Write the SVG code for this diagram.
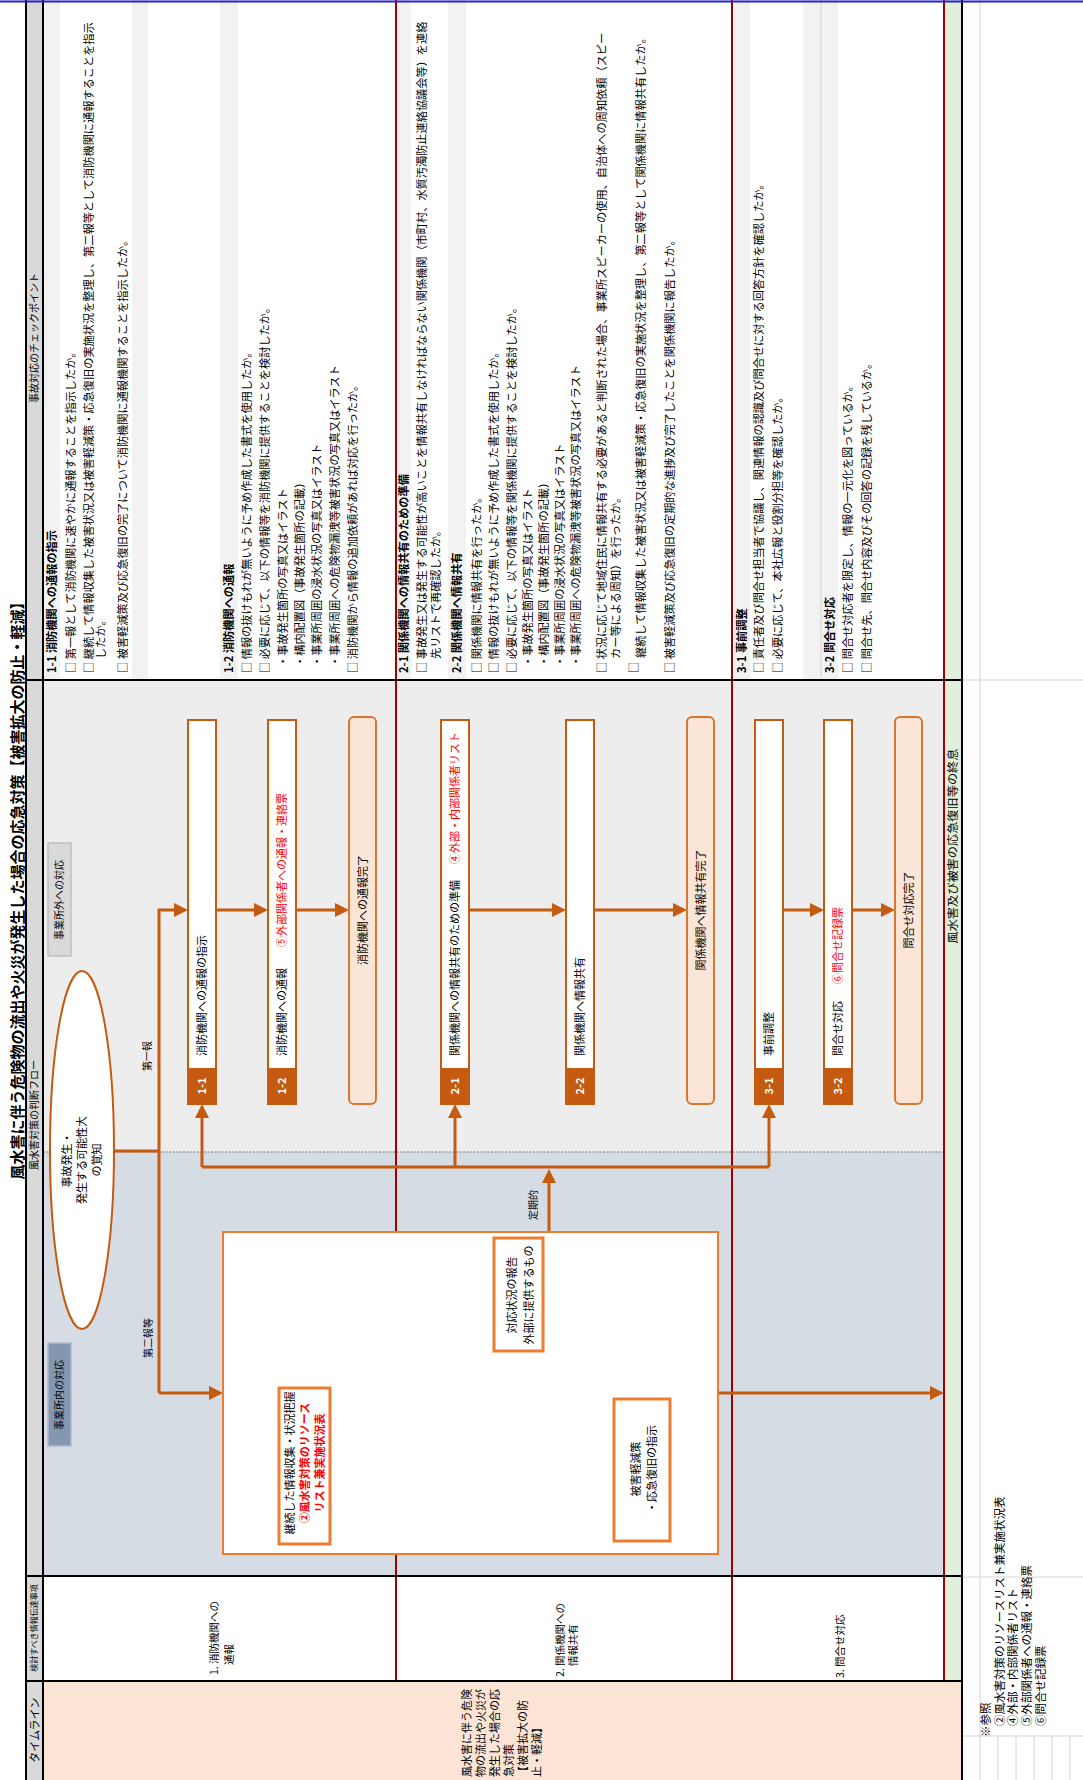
<svg xmlns="http://www.w3.org/2000/svg" width="1083" height="1780" viewBox="0 0 1083 1780">
<style>
text{font-family:"Noto Sans CJK JP","Noto Sans",sans-serif;fill:#000}
.cp{font-size:11.2px}
.b{font-weight:bold}
.red{fill:#ff0000}
.rb{fill:#ff0000;font-weight:bold}
.nb{fill:#fff;stroke:#c55a11;stroke-width:2}
.tab{fill:#c55a11}
.tabt{fill:#fff;font-weight:bold;font-size:11px}
.done{fill:#fbe5d6;stroke:#d9772f;stroke-width:2}
.ln{fill:none;stroke:#c55a11;stroke-width:3}
.ar{marker-end:url(#ah)}
.hb{fill:#f2f2f2}
.bk{stroke:#000;stroke-width:2}
.rd{stroke:#a00000;stroke-width:2}
.gr{stroke:#d4d4d4;stroke-width:1}
.lbl{font-size:11px}
.sm{font-size:10px}
.ib{fill:#fff;stroke:#ed7d31;stroke-width:3}
</style>
<defs>
<marker id="ah" markerUnits="userSpaceOnUse" markerWidth="14" markerHeight="14" viewBox="0 0 14 14" refX="10" refY="7" orient="auto">
<path d="M0,0 L14,7 L0,14 z" fill="#c55a11"/>
</marker>
</defs>
<rect x="0" y="0" width="1083" height="1780" fill="#fff"/>
<g transform="translate(0,1780) rotate(-90)">
<g id="table">
<rect x="0" y="26" width="1780" height="17" fill="#d9d9d9"/>
<rect x="628" y="43" width="472" height="901" fill="#ededed"/>
<rect x="204" y="43" width="424" height="901" fill="#d6dce4"/>
<rect x="99" y="945" width="1681" height="16" fill="#e2efda"/>
<rect x="0" y="43" width="99" height="918" fill="#fce4d6"/>
<rect x="1100" y="44" width="680" height="16" class="hb"/>
<rect x="1100" y="132" width="680" height="16" class="hb"/>
<rect x="1100" y="220" width="680" height="18" class="hb"/>
<rect x="1100" y="397" width="680" height="14" class="hb"/>
<rect x="1100" y="448" width="680" height="18" class="hb"/>
<rect x="1100" y="734" width="680" height="16" class="hb"/>
<rect x="1100" y="803" width="680" height="35" class="hb"/>
<line x1="1100" y1="821" x2="1780" y2="821" class="gr"/>
<line x1="628" y1="43" x2="628" y2="944" stroke="#9a9a9a" stroke-width="1.5" stroke-dasharray="2 1.5"/>
<line x1="0" y1="980" x2="1780" y2="980" class="gr"/>
<line x1="1100" y1="962" x2="1100" y2="1083" class="gr"/>
<line x1="203" y1="962" x2="203" y2="1083" class="gr"/>
<line x1="44" y1="962" x2="44" y2="1083" class="gr"/>
<line x1="0" y1="998" x2="44" y2="998" class="gr"/>
<line x1="0" y1="1016" x2="44" y2="1016" class="gr"/>
<line x1="0" y1="1034" x2="44" y2="1034" class="gr"/>
<line x1="0" y1="1052" x2="44" y2="1052" class="gr"/>
<line x1="0" y1="1070" x2="44" y2="1070" class="gr"/>
<line x1="99" y1="396" x2="1780" y2="396" class="rd"/>
<line x1="99" y1="732" x2="1780" y2="732" class="rd"/>
<line x1="99" y1="944" x2="1780" y2="944" class="rd"/>
<line x1="0" y1="26" x2="1780" y2="26" class="bk"/>
<line x1="0" y1="43" x2="1780" y2="43" class="bk"/>
<line x1="0" y1="962" x2="1780" y2="962" class="bk"/>
<line x1="1100" y1="26" x2="1100" y2="962" class="bk"/>
<line x1="204" y1="26" x2="204" y2="962" class="bk"/>
<line x1="99" y1="26" x2="99" y2="962" class="bk"/>
<line x1="1778.5" y1="0" x2="1778.5" y2="1083" stroke="#2323d6" stroke-width="2"/>
<text x="893" y="23" font-size="15" class="b" text-anchor="middle">風水害に伴う危険物の流出や火災が発生した場合の応急対策【被害拡大の防止・軽減】</text>
<text x="1442" y="38" class="sm" text-anchor="middle" fill="#333">事故対応のチェックポイント</text>
<text x="665" y="38" class="sm" text-anchor="middle" fill="#333">風水害対策の判断フロー</text>
<text x="152" y="37" font-size="8" text-anchor="middle" fill="#333">検討すべき情報伝達事項</text>
<text x="50" y="39" font-size="11" text-anchor="middle" fill="#333">タイムライン</text>
<text x="105" y="218" font-size="10.5">1. 消防機関への</text>
<text x="115" y="233" font-size="10.5">通報</text>
<text x="103" y="564" font-size="10.5">2. 関係機関への</text>
<text x="114" y="577" font-size="10.5">情報共有</text>
<text x="102" y="844" font-size="10.5">3. 問合せ対応</text>
<g font-size="11">
<text x="3" y="471">風水害に伴う危険</text>
<text x="3" y="485">物の流出や火災が</text>
<text x="3" y="499">発生した場合の応</text>
<text x="3" y="513">急対策</text>
<text x="3" y="527">【被害拡大の防</text>
<text x="3" y="541">止・軽減】</text>
</g>
<text x="934" y="957" font-size="11" text-anchor="middle" textLength="195" lengthAdjust="spacingAndGlyphs">風水害及び被害の応急復旧等の終息</text>
<g font-size="11.5">
<text x="43" y="990">※参照</text>
<text x="54" y="1004">②風水害対策のリソースリスト兼実施状況表</text>
<text x="54" y="1017">④外部・内部関係者リスト</text>
<text x="54" y="1031">⑤外部関係者への通報・連絡票</text>
<text x="54" y="1045">⑥問合せ記録票</text>
</g>
</g>
<g id="checkpoints" class="cp">
<text x="1107" y="56" class="cp b">1-1 消防機関への通報の指示</text>
<text x="1107" y="75" class="cp">□ 第一報として消防機関に速やかに通報することを指示したか。</text>
<text x="1107" y="93" class="cp">□ 継続して情報収集した被害状況又は被害軽減策・応急復旧の実施状況を整理し、第二報等として消防機関に通報することを指示</text>
<text x="1121" y="105" class="cp">したか。</text>
<text x="1107" y="127" class="cp">□ 被害軽減策及び応急復旧の完了について消防機関に通報機関することを指示したか。</text>
<text x="1107" y="233" class="cp b">1-2 消防機関への通報</text>
<text x="1107" y="251" class="cp">□ 情報の抜けもれが無いように予め作成した書式を使用したか。</text>
<text x="1107" y="269" class="cp">□ 必要に応じて、以下の情報等を消防機関に提供することを検討したか。</text>
<text x="1113" y="287" class="cp">・事故発生箇所の写真又はイラスト</text>
<text x="1113" y="304" class="cp">・構内配置図（事故発生箇所の記載）</text>
<text x="1113" y="321" class="cp">・事業所周囲の浸水状況の写真又はイラスト</text>
<text x="1113" y="339" class="cp">・事業所周囲への危険物漏洩等被害状況の写真又はイラスト</text>
<text x="1107" y="357" class="cp">□ 消防機関から情報の追加依頼があれば対応を行ったか。</text>
<text x="1107" y="408" class="cp b">2-1 関係機関への情報共有のための準備</text>
<text x="1107" y="426" class="cp">□ 事故発生又は発生する可能性が高いことを情報共有しなければならない関係機関（市町村、水質汚濁防止連絡協議会等）を連絡</text>
<text x="1121" y="440" class="cp">先リストで再確認したか。</text>
<text x="1107" y="461" class="cp b">2-2 関係機関へ情報共有</text>
<text x="1107" y="481" class="cp">□ 関係機関に情報共有を行ったか。</text>
<text x="1107" y="498" class="cp">□ 情報の抜けもれが無いように予め作成した書式を使用したか。</text>
<text x="1107" y="516" class="cp">□ 必要に応じて、以下の情報等を関係機関に提供することを検討したか。</text>
<text x="1113" y="532" class="cp">・事故発生箇所の写真又はイラスト</text>
<text x="1113" y="548" class="cp">・構内配置図（事故発生箇所の記載）</text>
<text x="1113" y="564" class="cp">・事業所周囲の浸水状況の写真又はイラスト</text>
<text x="1113" y="580" class="cp">・事業所周囲への危険物漏洩等被害状況の写真又はイラスト</text>
<text x="1107" y="606" class="cp">□ 状況に応じて地域住民に情報共有する必要があると判断された場合、事業所スピーカーの使用、自治体への周知依頼（スピー</text>
<text x="1121" y="620" class="cp">カー等による周知）を行ったか。</text>
<text x="1107" y="638" class="cp">□</text>
<text x="1122" y="645" class="cp">継続して情報収集した被害状況又は被害軽減策・応急復旧の実施状況を整理し、第二報等として関係機関に情報共有したか。</text>
<text x="1107" y="674" class="cp">□ 被害軽減策及び応急復旧の定期的な進捗及び完了したことを関係機関に報告したか。</text>
<text x="1107" y="746" class="cp b">3-1 事前調整</text>
<text x="1107" y="763" class="cp">□ 責任者及び問合せ担当者で協議し、関連情報の認識及び問合せに対する回答方針を確認したか。</text>
<text x="1107" y="782" class="cp">□ 必要に応じて、本社広報と役割分担等を確認したか。</text>
<text x="1107" y="834" class="cp b">3-2 問合せ対応</text>
<text x="1107" y="852" class="cp">□ 問合せ対応者を限定し、情報の一元化を図っているか。</text>
<text x="1107" y="871" class="cp">□ 問合せ先、問合せ内容及びその回答の記録を残しているか。</text>
</g>
<g id="connectors">
<path d="M629 114 L629 159" class="ln"/>
<path d="M387 159 L870 159 L870 184" class="ln ar"/>
<path d="M387 159 L387 219" class="ln ar"/>
<path d="M870 216 L870 264" class="ln ar"/>
<path d="M870 296 L870 345" class="ln ar"/>
<path d="M870 469 L870 562" class="ln ar"/>
<path d="M870 594 L870 683" class="ln ar"/>
<path d="M870 783 L870 820" class="ln ar"/>
<path d="M870 852 L870 891" class="ln ar"/>
<path d="M613 202 L613 769" class="ln"/>
<path d="M613 202 L672 202" class="ln ar"/>
<path d="M613 455 L672 455" class="ln ar"/>
<path d="M613 769 L672 769" class="ln ar"/>
<path d="M381 646 L422 646 L422 305 L396 305" class="ln ar"/>
<path d="M422 549 L607 549" class="ln ar"/>
<path d="M314 330 L314 610" class="ln ar"/>
<path d="M387 718 L387 940" class="ln ar"/>
<text x="724" y="151" class="sm" text-anchor="middle">第一報</text>
<text x="442" y="152" class="sm" text-anchor="middle">第二報等</text>
<text x="575" y="537" class="sm" text-anchor="middle">定期的</text>
</g>
<g id="label-outside">
<rect x="824" y="48" width="113" height="23" fill="#d9d9d9" stroke="#bfbfbf" stroke-width="1.5"/>
<text x="880" y="63" class="sm" text-anchor="middle" fill="#333">事業所外への対応</text>
</g>
<g id="label-inside">
<rect x="334" y="48" width="103" height="23" fill="#8497b0" stroke="#adb9ca" stroke-width="1.5"/>
<text x="385" y="63" class="sm" text-anchor="middle" fill="#222">事業所内の対応</text>
</g>
<g id="start">
<ellipse cx="630" cy="82" rx="179" ry="32" fill="#fff" stroke="#c55a11" stroke-width="2"/>
<text x="620" y="71" class="lbl" text-anchor="middle">事故発生・</text>
<text x="620" y="86" class="lbl" text-anchor="middle">発生する可能性大</text>
<text x="620" y="101" class="lbl" text-anchor="middle">の覚知</text>
</g>
<g id="n1-1">
<rect x="676" y="188" width="384" height="28" class="nb"/>
<rect x="676" y="188" width="36" height="28" class="tab"/>
<text x="694" y="206" class="tabt" text-anchor="middle">1-1</text>
<text x="724" y="206" class="lbl">消防機関への通報の指示</text>
</g>
<g id="n1-2">
<rect x="676" y="268" width="384" height="28" class="nb"/>
<rect x="676" y="268" width="36" height="28" class="tab"/>
<text x="694" y="286" class="tabt" text-anchor="middle">1-2</text>
<text x="724" y="286" class="lbl">消防機関への通報</text>
<text x="833" y="286" class="lbl red">⑤外部関係者への通報・連絡票</text>
</g>
<g id="n1-done">
<rect x="676" y="349" width="387" height="27" rx="5" class="done"/>
<text x="870" y="367" class="lbl" text-anchor="middle">消防機関への通報完了</text>
</g>
<g id="n2-1">
<rect x="676" y="441" width="384" height="28" class="nb"/>
<rect x="676" y="441" width="36" height="28" class="tab"/>
<text x="694" y="459" class="tabt" text-anchor="middle">2-1</text>
<text x="724" y="459" class="lbl">関係機関への情報共有のための準備</text>
<text x="916" y="459" class="lbl red">④外部・内部関係者リスト</text>
</g>
<g id="n2-2">
<rect x="676" y="566" width="384" height="28" class="nb"/>
<rect x="676" y="566" width="36" height="28" class="tab"/>
<text x="694" y="584" class="tabt" text-anchor="middle">2-2</text>
<text x="724" y="584" class="lbl">関係機関へ情報共有</text>
</g>
<g id="n2-done">
<rect x="676" y="687" width="387" height="27" rx="5" class="done"/>
<text x="870" y="705" class="lbl" text-anchor="middle">関係機関へ情報共有完了</text>
</g>
<g id="n3-1">
<rect x="676" y="755" width="384" height="28" class="nb"/>
<rect x="676" y="755" width="36" height="28" class="tab"/>
<text x="694" y="773" class="tabt" text-anchor="middle">3-1</text>
<text x="724" y="773" class="lbl">事前調整</text>
</g>
<g id="n3-2">
<rect x="676" y="824" width="384" height="28" class="nb"/>
<rect x="676" y="824" width="36" height="28" class="tab"/>
<text x="694" y="842" class="tabt" text-anchor="middle">3-2</text>
<text x="724" y="842" class="lbl">問合せ対応</text>
<text x="796" y="842" class="lbl red">⑥問合せ記録票</text>
</g>
<g id="n3-done">
<rect x="676" y="895" width="387" height="27" rx="5" class="done"/>
<text x="870" y="913" class="lbl" text-anchor="middle">問合せ対応完了</text>
</g>
<g id="inside-box">
<rect x="226" y="223" width="322" height="495" fill="#fff" stroke="#ed7d31" stroke-width="2"/>
</g>
<g id="report">
<rect x="429" y="494" width="113" height="49" class="ib"/>
<text x="485" y="516" class="lbl" text-anchor="middle">対応状況の報告</text>
<text x="485" y="533" class="lbl" text-anchor="middle">外部に提供するもの</text>
</g>
<g id="collect">
<rect x="236" y="279" width="156" height="51" class="ib"/>
<text x="317" y="294" class="lbl" text-anchor="middle">継続した情報収集・状況把握</text>
<text x="317" y="309" class="lbl rb" text-anchor="middle">②風水害対策のリソース</text>
<text x="317" y="324" class="lbl rb" text-anchor="middle">リスト兼実施状況表</text>
</g>
<g id="mitigate">
<rect x="239" y="614" width="142" height="56" class="ib"/>
<text x="311" y="640" class="lbl" text-anchor="middle">被害軽減策</text>
<text x="311" y="656" class="lbl" text-anchor="middle">・応急復旧の指示</text>
</g>
</g>
</svg>
